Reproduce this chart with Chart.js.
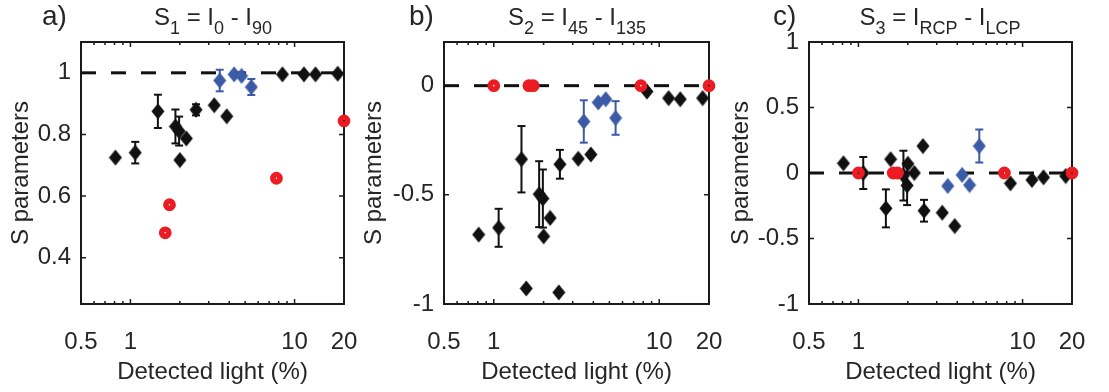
<!DOCTYPE html>
<html>
<head>
<meta charset="utf-8">
<script src="https://cdn.jsdelivr.net/npm/chart.js"></script>
<style>
  body { margin: 0; background: #fff; }
  #wrap { position: relative; width: 1109px; height: 392px; overflow: hidden;
          font-family: 'Liberation Sans', Arial, sans-serif; color: #262626; }
  #wrap canvas { position: absolute; left: 0; top: 0; }
  .letter { position: absolute; top: 2px; font-size: 28px; line-height: 28px; }
  .ttl { position: absolute; top: 5px; font-size: 24px; line-height: 24px; white-space: nowrap;
         transform: translateX(-50%); }
  .ttl sub { font-size: 18px; line-height: 0; vertical-align: -9px; }
</style>
</head>
<body>
<div id="wrap">
  <canvas id="chartA" width="1109" height="392"></canvas>
  <canvas id="chartB" width="1109" height="392"></canvas>
  <canvas id="chartC" width="1109" height="392"></canvas>
  <div class="letter" style="left:42px">a)</div>
  <div class="letter" style="left:409px">b)</div>
  <div class="letter" style="left:773px">c)</div>
  <div class="ttl" style="left:213px">S<sub>1</sub> = I<sub>0</sub> - I<sub>90</sub></div>
  <div class="ttl" style="left:577px">S<sub>2</sub> = I<sub>45</sub> - I<sub>135</sub></div>
  <div class="ttl" style="left:940px">S<sub>3</sub> = I<sub>RCP</sub> - I<sub>LCP</sub></div>
</div>
<script>
// x axis (detected light, %)
const xTickVals = [0.5, 1, 10, 20];
const xMajorTicks = [1, 10];
const xMinorTicks = [0.6, 0.7, 0.8, 0.9, 2, 3, 4, 5, 6, 7, 8, 9];

// black diamonds
const blackX = [0.81, 1.07, 1.47, 1.57, 1.88, 1.98, 2.0, 2.19, 2.47, 2.51, 3.24, 3.86, 8.43, 11.4, 13.4, 18.3];
const blackS1 = [0.725, 0.741, 0.875, null, 0.826, 0.811, 0.717, 0.787, null, 0.88, 0.895, 0.859, 0.995, 0.995, 0.995, 0.997];
const blackS1Err = [0, 0.035, 0.054, 0, 0.055, 0.047, 0, 0, 0, 0.018, 0, 0, 0, 0, 0, 0];
const blackS2 = [-0.682, -0.651, -0.337, -0.929, -0.497, -0.517, -0.69, -0.606, -0.947, -0.36, -0.335, -0.315, -0.027, -0.057, -0.062, -0.057];
const blackS2Err = [0, 0.087, 0.152, 0, 0.151, 0.133, 0, 0, 0, 0.066, 0, 0, 0, 0, 0, 0];
const blackS3 = [0.074, 0.0, -0.27, 0.105, -0.02, -0.095, 0.07, 0.0, 0.206, -0.288, -0.303, -0.405, -0.079, -0.053, -0.033, -0.023];
const blackS3Err = [0, 0.122, 0.145, 0, 0.19, 0.15, 0, 0, 0, 0.083, 0, 0, 0, 0, 0, 0];

// blue diamonds
const blueX = [3.5, 4.28, 4.75, 5.45];
const blueS1 = [0.975, 0.995, 0.99, 0.954];
const blueS1Err = [0.035, 0, 0, 0.026];
const blueS2 = [-0.164, -0.077, -0.062, -0.148];
const blueS2Err = [0.097, 0, 0, 0.077];
const blueS3 = [-0.099, -0.015, -0.092, 0.206];
const blueS3Err = [0, 0, 0, 0.126];

// red circles
const redX = [1.0, 1.63, 1.73, 7.75, 20];
const redS1 = [null, 0.481, 0.572, 0.658, 0.844];
const redS2 = [0, 0, 0, 0, 0];
const redS3 = [0, 0, 0, 0, 0];

// y axes
const s1Ticks = [0.4, 0.6, 0.8, 1];
const s2Ticks = [-1, -0.5, 0];
const s3Ticks = [-1, -0.5, 0, 0.5, 1];

const FONT = "'Liberation Sans', Arial, sans-serif";
const INK = '#262626';
const BLACK = '#111111';
const BLUE = '#3b5ba6';
const RED = '#ec1c24';

Chart.defaults.font.family = FONT;
Chart.defaults.color = INK;

function diamond(color) {
	const c = document.createElement('canvas');
	c.width = 14;
	c.height = 17;
	const g = c.getContext('2d');
	g.fillStyle = color;
	g.beginPath();
	g.moveTo(7, 0.5);
	g.lineTo(13.5, 8.5);
	g.lineTo(7, 16.5);
	g.lineTo(0.5, 8.5);
	g.closePath();
	g.fill();
	return c;
}
const blackDiamond = diamond(BLACK);
const blueDiamond = diamond(BLUE);

const pts = (xs, ys) => xs.map((x, i) => ({x: x, y: ys[i]})).filter(p => p.y !== null);

// whisker segments, separated by gaps
function errLines(xs, ys, es) {
	const out = [];
	xs.forEach((x, i) => {
		if (ys[i] === null || !es[i]) return;
		out.push({x: x, y: ys[i] - es[i]}, {x: x, y: ys[i] + es[i]}, {x: x, y: null});
	});
	return out;
}
function errCaps(xs, ys, es) {
	const out = [];
	xs.forEach((x, i) => {
		if (ys[i] === null || !es[i]) return;
		out.push({x: x, y: ys[i] - es[i]}, {x: x, y: ys[i] + es[i]});
	});
	return out;
}

// box + inward ticks like the original axes
const frame = {
	id: 'frame',
	beforeDatasetsDraw(chart, args, opts) {
		const {ctx, chartArea: a, scales: {x, y}} = chart;
		ctx.save();
		ctx.strokeStyle = '#1a1a1a';
		ctx.lineWidth = 1.5;
		ctx.beginPath();
		const xt = (v, len) => {
			const px = x.getPixelForValue(v);
			ctx.moveTo(px, a.bottom); ctx.lineTo(px, a.bottom - len);
			ctx.moveTo(px, a.top); ctx.lineTo(px, a.top + len);
		};
		xMinorTicks.forEach(v => xt(v, 3));
		xMajorTicks.forEach(v => xt(v, 5));
		opts.yTicks.forEach(v => {
			const py = y.getPixelForValue(v);
			ctx.moveTo(a.left, py); ctx.lineTo(a.left + 5, py);
			ctx.moveTo(a.right, py); ctx.lineTo(a.right - 5, py);
		});
		ctx.stroke();
		ctx.lineWidth = 2;
		ctx.strokeRect(a.left, a.top, a.right - a.left, a.bottom - a.top);
		ctx.restore();
	}
};

function makeChart(canvasId, p) {
	const datasets = [
		{ // red first = drawn on top
			data: pts(redX, p.red), pointStyle: 'circle', pointRadius: 3.6, pointBorderWidth: 5.6,
			pointBackgroundColor: 'rgba(0,0,0,0)', pointBorderColor: RED, clip: false, order: 1
		},
		{ data: pts(blueX, p.blue), pointStyle: blueDiamond, clip: false, order: 2 },
		{ data: errCaps(blueX, p.blue, p.blueErr), pointStyle: 'line', pointRadius: 4,
			pointBorderWidth: 2, pointBorderColor: BLUE, clip: false, order: 3 },
		{ data: errLines(blueX, p.blue, p.blueErr), showLine: true, pointRadius: 0,
			borderColor: BLUE, borderWidth: 2, spanGaps: false, clip: false, order: 4 },
		{ data: pts(blackX, p.black), pointStyle: blackDiamond, clip: false, order: 5 },
		{ data: errCaps(blackX, p.black, p.blackErr), pointStyle: 'line', pointRadius: 4,
			pointBorderWidth: 2, pointBorderColor: BLACK, clip: false, order: 6 },
		{ data: errLines(blackX, p.black, p.blackErr), showLine: true, pointRadius: 0,
			borderColor: BLACK, borderWidth: 2, spanGaps: false, clip: false, order: 7 },
		{ data: [{x: 0.5, y: p.ref}, {x: 20, y: p.ref}], showLine: true, pointRadius: 0,
			borderColor: BLACK, borderWidth: 3, borderDash: [15, 15], order: 8 }
	];
	return new Chart(document.getElementById(canvasId), {
		type: 'scatter',
		data: {datasets},
		options: {
			responsive: false,
			animation: false,
			events: [],
			layout: {padding: {left: p.padLeft, right: 1109 - p.plotRight, top: 42, bottom: 0}},
			plugins: {legend: {display: false}, tooltip: {enabled: false}, frame: {yTicks: p.yTicks}},
			scales: {
				x: {
					type: 'logarithmic', min: 0.5, max: 20,
					grid: {display: false, drawTicks: false}, border: {display: false},
					afterBuildTicks: s => { s.ticks = xTickVals.map(v => ({value: v})); },
					afterFit: s => { s.height = 88; s.paddingLeft = 0; s.paddingRight = 0; },
					ticks: {callback: v => String(v), font: {size: 24}, color: INK, padding: 24,
						maxRotation: 0, autoSkip: false},
					title: {display: true, text: 'Detected light (%)', font: {size: 24}, color: INK,
						padding: {top: 0, bottom: 5}}
				},
				y: {
					min: p.yMin, max: p.yMax,
					grid: {display: false, drawTicks: false}, border: {display: false},
					afterBuildTicks: s => { s.ticks = p.yTicks.map(v => ({value: v})); },
					afterFit: s => { s.width = p.plotLeft - p.padLeft; s.paddingTop = 0; s.paddingBottom = 0; },
					ticks: {callback: v => String(v), font: {size: 24}, color: INK, padding: 10, autoSkip: false},
					title: {display: true, text: 'S parameters', font: {size: 24}, color: INK,
						padding: {top: p.yTitleX - p.padLeft - 14.4, bottom: 0}}
				}
			}
		},
		plugins: [frame]
	});
}

makeChart('chartA', {padLeft: 0, plotLeft: 81, plotRight: 344, yMin: 0.25, yMax: 1.1, yTicks: s1Ticks,
	ref: 1, yTitleX: 21, black: blackS1, blackErr: blackS1Err, blue: blueS1, blueErr: blueS1Err, red: redS1});
makeChart('chartB', {padLeft: 355, plotLeft: 444, plotRight: 709, yMin: -1, yMax: 0.2, yTicks: s2Ticks,
	ref: 0, yTitleX: 374, black: blackS2, blackErr: blackS2Err, blue: blueS2, blueErr: blueS2Err, red: redS2});
makeChart('chartC', {padLeft: 720, plotLeft: 809, plotRight: 1072, yMin: -1, yMax: 1, yTicks: s3Ticks,
	ref: 0, yTitleX: 741, black: blackS3, blackErr: blackS3Err, blue: blueS3, blueErr: blueS3Err, red: redS3});
</script>
</body>
</html>
